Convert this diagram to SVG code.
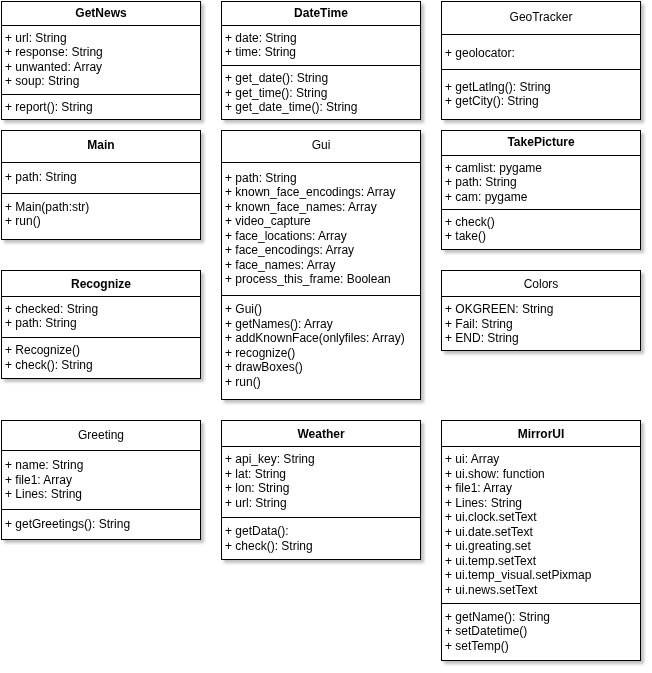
<svg xmlns="http://www.w3.org/2000/svg" width="652" height="673" viewBox="0 0 652 673">
<defs>
<filter id="sh" x="-10%" y="-10%" width="130%" height="130%">
<feDropShadow dx="3" dy="3" stdDeviation="1.6" flood-color="#000" flood-opacity="0.25"/>
</filter>
</defs>
<style>
.box{fill:#fff;stroke:#000;stroke-width:1}
.sep{stroke:#000;stroke-width:1;fill:none}
text{font-family:"Liberation Sans",Arial,Helvetica,sans-serif;font-size:12px;fill:#000}
.t{text-anchor:middle;font-weight:bold}
.tn{text-anchor:middle}
.node{filter:url(#sh)}
</style>
<rect width="652" height="673" fill="#fff"/>
<g id="connectors"/>

<g id="GetNews" class="node">
<rect class="box" x="1.5" y="1.5" width="199" height="118"/>
<path class="sep" d="M1.5 25.5H200.5M1.5 94.5H200.5"/>
<text class="t" x="101" y="17">GetNews</text>
<text x="5" y="41.5">+ url: String</text>
<text x="5" y="56">+ response: String</text>
<text x="5" y="70.5">+ unwanted: Array</text>
<text x="5" y="85">+ soup: String</text>
<text x="5" y="111">+ report(): String</text>
</g>

<g id="DateTime" class="node">
<rect class="box" x="221.5" y="1.5" width="199" height="118"/>
<path class="sep" d="M221.5 25.5H420.5M221.5 65.5H420.5"/>
<text class="t" x="321" y="17">DateTime</text>
<text x="225" y="41.5">+ date: String</text>
<text x="225" y="56">+ time: String</text>
<text x="225" y="82">+ get_date(): String</text>
<text x="225" y="96.5">+ get_time(): String</text>
<text x="225" y="111">+ get_date_time(): String</text>
</g>

<g id="GeoTracker" class="node">
<rect class="box" x="441.5" y="1.5" width="199" height="118"/>
<path class="sep" d="M441.5 34.5H640.5M441.5 69.5H640.5"/>
<text class="tn" x="541" y="21">GeoTracker</text>
<text x="445" y="56.5">+ geolocator:</text>
<text x="445" y="91">+ getLatlng(): String</text>
<text x="445" y="105">+ getCity(): String</text>
</g>

<g id="Main" class="node">
<rect class="box" x="1.5" y="130.5" width="199" height="109"/>
<path class="sep" d="M1.5 162.5H200.5M1.5 193.5H200.5"/>
<text class="t" x="101" y="149">Main</text>
<text x="5" y="180.5">+ path: String</text>
<text x="5" y="210.5">+ Main(path:str)</text>
<text x="5" y="225">+ run()</text>
</g>

<g id="Gui" class="node">
<rect class="box" x="221.5" y="130.5" width="199" height="269"/>
<path class="sep" d="M221.5 162.5H420.5M221.5 295.5H420.5"/>
<text class="tn" x="321" y="149">Gui</text>
<text x="225" y="181.5">+ path: String</text>
<text x="225" y="196">+ known_face_encodings: Array</text>
<text x="225" y="210.5">+ known_face_names: Array</text>
<text x="225" y="225">+ video_capture</text>
<text x="225" y="239.5">+ face_locations: Array</text>
<text x="225" y="254">+ face_encodings: Array</text>
<text x="225" y="268.5">+ face_names: Array</text>
<text x="225" y="283">+ process_this_frame: Boolean</text>
<text x="225" y="313">+ Gui()</text>
<text x="225" y="327.5">+ getNames(): Array</text>
<text x="225" y="342">+ addKnownFace(onlyfiles: Array)</text>
<text x="225" y="356.5">+ recognize()</text>
<text x="225" y="371">+ drawBoxes()</text>
<text x="225" y="385.5">+ run()</text>
</g>

<g id="TakePicture" class="node">
<rect class="box" x="441.5" y="130.5" width="199" height="119"/>
<path class="sep" d="M441.5 155.5H640.5M441.5 209.5H640.5"/>
<text class="t" x="541" y="146">TakePicture</text>
<text x="445" y="171.5">+ camlist: pygame</text>
<text x="445" y="186">+ path: String</text>
<text x="445" y="200.5">+ cam: pygame</text>
<text x="445" y="225.5">+ check()</text>
<text x="445" y="240">+ take()</text>
</g>

<g id="Recognize" class="node">
<rect class="box" x="1.5" y="270.5" width="199" height="108"/>
<path class="sep" d="M1.5 296.5H200.5M1.5 337.5H200.5"/>
<text class="t" x="101" y="287.5">Recognize</text>
<text x="5" y="312.5">+ checked: String</text>
<text x="5" y="327">+ path: String</text>
<text x="5" y="354">+ Recognize()</text>
<text x="5" y="368.5">+ check(): String</text>
</g>

<g id="Colors" class="node">
<rect class="box" x="441.5" y="270.5" width="199" height="80"/>
<path class="sep" d="M441.5 296.5H640.5"/>
<text class="tn" x="541" y="287.5">Colors</text>
<text x="445" y="313">+ OKGREEN: String</text>
<text x="445" y="327.5">+ Fail: String</text>
<text x="445" y="342">+ END: String</text>
</g>

<g id="Greeting" class="node">
<rect class="box" x="1.5" y="420.5" width="199" height="119"/>
<path class="sep" d="M1.5 450.5H200.5M1.5 509.5H200.5"/>
<text class="tn" x="101" y="439">Greeting</text>
<text x="5" y="469">+ name: String</text>
<text x="5" y="483.5">+ file1: Array</text>
<text x="5" y="498">+ Lines: String</text>
<text x="5" y="527.5">+ getGreetings(): String</text>
</g>

<g id="Weather" class="node">
<rect class="box" x="221.5" y="420.5" width="199" height="139"/>
<path class="sep" d="M221.5 446.5H420.5M221.5 517.5H420.5"/>
<text class="t" x="321" y="437.5">Weather</text>
<text x="225" y="463">+ api_key: String</text>
<text x="225" y="477.5">+ lat: String</text>
<text x="225" y="492">+ lon: String</text>
<text x="225" y="506.5">+ url: String</text>
<text x="225" y="535">+ getData():</text>
<text x="225" y="549.5">+ check(): String</text>
</g>

<g id="MirrorUI" class="node">
<rect class="box" x="441.5" y="420.5" width="199" height="240"/>
<path class="sep" d="M441.5 446.5H640.5M441.5 603.5H640.5"/>
<text class="t" x="541" y="437.5">MirrorUI</text>
<text x="445" y="463">+ ui: Array</text>
<text x="445" y="477.5">+ ui.show: function</text>
<text x="445" y="492">+ file1: Array</text>
<text x="445" y="506.5">+ Lines: String</text>
<text x="445" y="521">+ ui.clock.setText</text>
<text x="445" y="535.5">+ ui.date.setText</text>
<text x="445" y="550">+ ui.greating.set</text>
<text x="445" y="564.5">+ ui.temp.setText</text>
<text x="445" y="579">+ ui.temp_visual.setPixmap</text>
<text x="445" y="593.5">+ ui.news.setText</text>
<text x="445" y="620.5">+ getName(): String</text>
<text x="445" y="635">+ setDatetime()</text>
<text x="445" y="649.5">+ setTemp()</text>
</g>
</svg>
